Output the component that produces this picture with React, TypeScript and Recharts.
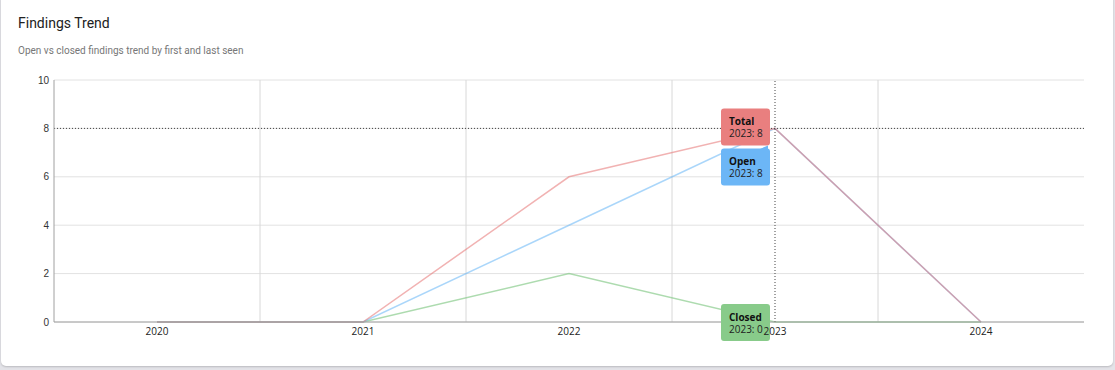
import {
  LineChart,
  Line,
  XAxis,
  YAxis,
  CartesianGrid,
  ReferenceLine,
  ReferenceDot,
} from "recharts";

const years = [2020, 2021, 2022, 2023, 2024];
const totalFindings = [0, 0, 6, 8, 0];
const openFindings = [0, 0, 4, 8, 0];
const closedFindings = [0, 0, 2, 0, 0];
const yTicks = [0, 2, 4, 6, 8, 10];
// the year the pointer was resting on when the screenshot was taken
const hoverIndex = 3;

const data = years.map((year, i) => ({
  year,
  total: totalFindings[i],
  open: openFindings[i],
  closed: closedFindings[i],
}));

// grid lines sit between the years, not on them
const yearBounds = years.slice(0, -1).map((y) => y + 0.5);

const TIP_FONT = "'Open Sans', sans-serif";

function TipBox(props: any) {
  const { cx, cy, fill, title, label, dy, arrow } = props;
  const x = cx - 54;
  const y = cy + dy;
  return (
    <g>
      {arrow && <path d={`M${x + 38} ${y + 1} L${x + 47} ${y - 3} L${x + 47} ${y + 1} Z`} fill={fill} />}
      <rect x={x} y={y} width={49} height={37} rx={3} ry={3} fill={fill} />
      <text x={x + 8} y={y + 17} fontFamily={TIP_FONT} fontSize={10} fontWeight={700} fill="#111">
        {title}
      </text>
      <text x={x + 8} y={y + 29} fontFamily={TIP_FONT} fontSize={10} fill="#222">
        {label}
      </text>
    </g>
  );
}

export default function App() {
  const hoverYear = years[hoverIndex];

  return (
    <div
      style={{
        position: "relative",
        width: 1115,
        height: 370,
        background: "#e3e3e8",
        overflow: "hidden",
      }}
    >
      <style>{"body{margin:0}"}</style>

      {/* CARD */}
      <div
        style={{
          position: "absolute",
          left: 1,
          top: -6,
          width: 1112,
          height: 372,
          background: "#fff",
          borderRadius: 5,
          boxShadow: "0 1px 2px rgba(0,0,0,0.18)",
        }}
      />

      <div
        style={{
          position: "absolute",
          left: 18,
          top: 15,
          fontFamily: "Roboto, sans-serif",
          fontSize: 14,
          color: "#212121",
        }}
      >
        Findings Trend
      </div>
      <div
        style={{
          position: "absolute",
          left: 18,
          top: 45,
          fontFamily: "Roboto, sans-serif",
          fontSize: 10,
          color: "#777",
        }}
      >
        Open vs closed findings trend by first and last seen
      </div>

      {/* THE CHART */}
      <div style={{ position: "absolute", left: 0, top: 0 }}>
        <LineChart
          width={1115}
          height={370}
          data={data}
          margin={{ top: 80, right: 31, bottom: 28, left: 24 }}
        >
          <CartesianGrid vertical={false} stroke="#e2e2e2" />
          <XAxis
            dataKey="year"
            type="number"
            domain={[years[0] - 0.5, years[years.length - 1] + 0.5]}
            ticks={years}
            tickFormatter={(v) => String(v)}
            height={20}
            tickLine={false}
            tickSize={0}
            tickMargin={6}
            axisLine={{ stroke: "#a0a0a0" }}
            tick={{ fill: "#222", fontSize: 10, fontFamily: TIP_FONT }}
          />
          <YAxis
            domain={[0, 10]}
            ticks={yTicks}
            width={30}
            tickLine={false}
            tickSize={0}
            tickMargin={5}
            axisLine={{ stroke: "#a0a0a0" }}
            tick={{ fill: "#333", fontSize: 10, fontFamily: "'Liberation Sans', Arial, sans-serif" }}
          />
          {yearBounds.map((b) => (
            <ReferenceLine key={b} x={b} stroke="#d8d8d8" />
          ))}

          <Line
            dataKey="closed"
            stroke="#81c784"
            strokeOpacity={0.65}
            strokeWidth={1.5}
            dot={false}
            activeDot={false}
            isAnimationActive={false}
          />
          <Line
            dataKey="open"
            stroke="#64b5f6"
            strokeOpacity={0.55}
            strokeWidth={1.5}
            dot={false}
            activeDot={false}
            isAnimationActive={false}
          />
          <Line
            dataKey="total"
            stroke="#e57373"
            strokeOpacity={0.55}
            strokeWidth={1.5}
            dot={false}
            activeDot={false}
            isAnimationActive={false}
          />

          {/* hover crosshair */}
          <ReferenceLine y={totalFindings[hoverIndex]} stroke="#444" strokeDasharray="1 2" />
          <ReferenceLine x={hoverYear} stroke="#444" strokeDasharray="1 2" />

          {/* hover tooltips */}
          <ReferenceDot
            x={hoverYear}
            y={totalFindings[hoverIndex]}
            shape={(p: any) => (
              <TipBox {...p} fill="#e97f7f" title="Total" label={`${hoverYear}: ${totalFindings[hoverIndex]}`} dy={-20} />
            )}
          />
          <ReferenceDot
            x={hoverYear}
            y={openFindings[hoverIndex]}
            shape={(p: any) => (
              <TipBox {...p} fill="#6cb6f6" title="Open" label={`${hoverYear}: ${openFindings[hoverIndex]}`} dy={20} arrow />
            )}
          />
          <ReferenceDot
            x={hoverYear}
            y={closedFindings[hoverIndex]}
            shape={(p: any) => (
              <TipBox {...p} fill="#88cb8a" title="Closed" label={`${hoverYear}: ${closedFindings[hoverIndex]}`} dy={-18} />
            )}
          />
        </LineChart>
      </div>
    </div>
  );
}
